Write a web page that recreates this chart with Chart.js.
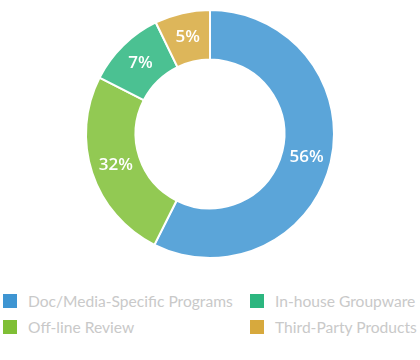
<!DOCTYPE html>
<html>
<head>
<meta charset="utf-8">
<script src="https://cdn.jsdelivr.net/npm/chart.js@4/dist/chart.umd.min.js"></script>
<style>
    body { margin: 0; background: #fff; }
    #wrap { position: relative; width: 420px; height: 360px; }
    #pie { position: absolute; left: 0; top: 0; }
    .legend-item {
        position: absolute;
        height: 20px;
        line-height: 20px;
        font-family: Lato, sans-serif;
        font-size: 15.6px;
        color: #c9c9c9;
        white-space: nowrap;
    }
    .legend-item span.box {
        position: absolute;
        left: 0;
        top: 3px;
        width: 14px;
        height: 14px;
    }
    .legend-item span.txt { position: absolute; left: 25px; top: 0; }
</style>
</head>
<body>
<div id="wrap">
    <canvas id="pie" width="420" height="268"></canvas>
    <div id="legend"></div>
</div>
<script>
// slice order goes clockwise from the top
const categories = ['Doc/Media-Specific Programs', 'Off-line Review', 'In-house Groupware', 'Third-Party Products'];
const shares = [57.4, 25.1, 10.3, 7.2];
const percentLabels = ['56%', '32%', '7%', '5%'];
const baseColors = ['#3e95d2', '#7fbf35', '#2cb67f', '#d7a93d'];

function withAlpha(hex, a) {
    const n = parseInt(hex.slice(1), 16);
    return `rgba(${(n >> 16) & 255}, ${(n >> 8) & 255}, ${n & 255}, ${a})`;
}

// draws the percent text in the middle of each slice
const sliceLabels = {
    id: 'sliceLabels',
    afterDatasetsDraw(chart) {
        const ctx = chart.ctx;
        const meta = chart.getDatasetMeta(0);
        ctx.save();
        ctx.fillStyle = '#fff';
        ctx.font = '600 17px "Open Sans", sans-serif';
        ctx.textAlign = 'center';
        ctx.textBaseline = 'middle';
        meta.data.forEach((arc, i) => {
            const pos = arc.tooltipPosition();
            ctx.fillText(percentLabels[i], pos.x, pos.y);
        });
        ctx.restore();
    }
};

new Chart(document.getElementById('pie'), {
    type: 'doughnut',
    data: {
        labels: categories,
        datasets: [{
            data: shares,
            backgroundColor: baseColors.map(c => withAlpha(c, 0.85)),
            borderColor: '#fff',
            borderWidth: 2
        }]
    },
    options: {
        responsive: false,
        animation: false,
        cutout: '60%',
        layout: { padding: { top: 9, bottom: 9 } },
        plugins: {
            legend: { display: false },
            tooltip: { enabled: false }
        }
    },
    plugins: [sliceLabels]
});

// legend in two columns, filled top to bottom
const legend = document.getElementById('legend');
const colX = [3, 250];
const rowY = [291, 317];
categories.forEach((name, i) => {
    const item = document.createElement('div');
    item.className = 'legend-item';
    item.style.left = colX[Math.floor(i / 2)] + 'px';
    item.style.top = rowY[i % 2] + 'px';
    item.innerHTML = `<span class="box" style="background:${baseColors[i]}"></span><span class="txt">${name}</span>`;
    legend.appendChild(item);
});
</script>
</body>
</html>
